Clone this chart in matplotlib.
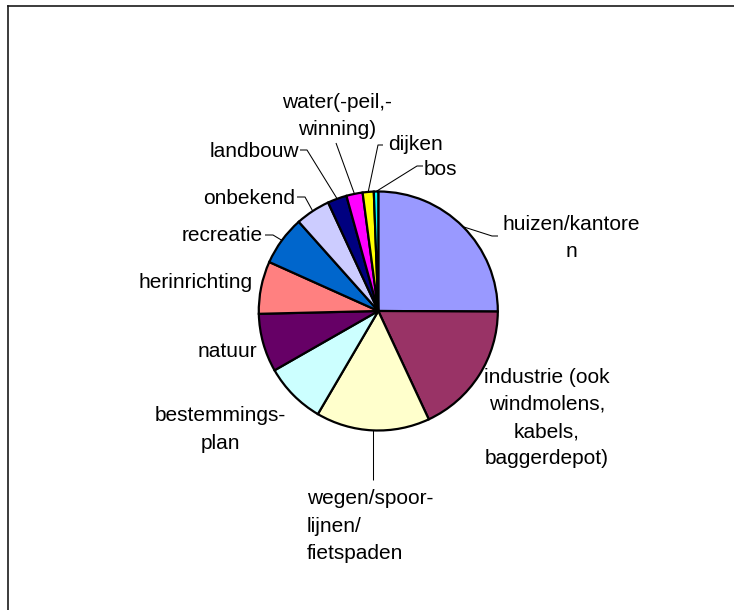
import matplotlib
matplotlib.use("Agg")
import matplotlib.pyplot as plt
from matplotlib.lines import Line2D
import numpy as np

plt.rcParams["font.family"] = ["Liberation Sans", "DejaVu Sans"]

W, H, DPI = 734, 610, 100

LABELS = ["huizen/kantore\nn",
          "industrie (ook\nwindmolens,\nkabels,\nbaggerdepot)",
          "wegen/spoor-\nlijnen/\nfietspaden",
          "bestemmings-\nplan",
          "natuur",
          "herinrichting",
          "recreatie",
          "onbekend",
          "landbouw",
          "water(-peil,-\nwinning)",
          "dijken",
          "bos"]
SHARES = [25.1, 18.0, 15.4, 8.3, 7.9, 7.1, 6.7, 4.7, 2.6, 2.2, 1.5, 0.6]
COLORS = ["#9999FF", "#993366", "#FFFFCC", "#CCFFFF", "#660066", "#FF8080",
          "#0066CC", "#CCCCFF", "#000080", "#FF00FF", "#FFFF00", "#00FFFF"]

# layout in image pixels (y measured from the top)
CENTER = (378.3, 311.0)
RADIUS = 119.5

# (x, y, ha, va)
LABEL_POS = [
    (571, 237.7, "center", "center"),
    (547, 418, "center", "center"),
    (307, 526, "left", "center"),
    (220, 429.5, "center", "center"),
    (227, 356.7, "center", "baseline"),
    (196, 287.5, "center", "baseline"),
    (263, 241, "right", "baseline"),
    (295, 204, "right", "baseline"),
    (299, 157, "right", "baseline"),
    (337, 115.7, "center", "center"),
    (388, 150, "left", "baseline"),
    (424, 175, "left", "baseline"),
]

# leader points after the wedge edge; None means no leader line
LEADERS = [
    [(492, 236), (498, 236)],
    None,
    [(None, 480)],
    None,
    None,
    None,
    [(273, 235), (265, 235)],
    [(305, 197), (297, 197)],
    [(307, 150), (300, 150)],
    [(336, 143)],
    [(378, 145), (383, 145)],
    [(417, 166), (423, 166)],
]

FONT_SIZE = 15
LINE_SPACING = 1.55


def flip(y):
    return H - y


fig = plt.figure(figsize=(W / DPI, H / DPI), dpi=DPI)
fig.patch.set_facecolor("white")
ax = fig.add_axes([0, 0, 1, 1])

cx, cy = CENTER[0], flip(CENTER[1])
wedges, _ = ax.pie(SHARES, colors=COLORS, startangle=90, counterclock=False,
                   center=(cx, cy), radius=RADIUS,
                   wedgeprops=dict(edgecolor="black", linewidth=1.6))
ax.set_xlim(0, W)
ax.set_ylim(0, H)
ax.set_aspect("equal")
ax.axis("off")

for wedge, label, (x, y, ha, va), leader in zip(wedges, LABELS, LABEL_POS, LEADERS):
    ax.text(x, flip(y), label, ha=ha, va=va, multialignment=ha if ha == "left" else "center",
            fontsize=FONT_SIZE, linespacing=LINE_SPACING, color="black")
    if leader is None:
        continue
    mid = np.deg2rad((wedge.theta1 + wedge.theta2) / 2)
    ex, ey = cx + RADIUS * np.cos(mid), cy + RADIUS * np.sin(mid)
    xs, ys = [ex], [ey]
    for px, py in leader:
        xs.append(ex if px is None else px)
        ys.append(flip(py))
    ax.plot(xs, ys, color="black", linewidth=0.75, solid_capstyle="butt")

# chart area border (only left and top visible)
fig.add_artist(Line2D([8 / W, 8 / W], [0, 1 - 5.5 / H], transform=fig.transFigure,
                      color="#1a1a1a", linewidth=1.2))
fig.add_artist(Line2D([8 / W, 1], [1 - 5.5 / H, 1 - 5.5 / H], transform=fig.transFigure,
                      color="#1a1a1a", linewidth=1.2))

fig.savefig("out.png", dpi=DPI, facecolor="white")
